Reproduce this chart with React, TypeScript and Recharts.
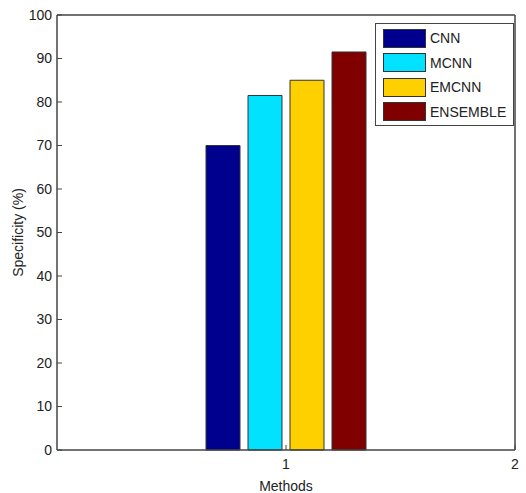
import { Bar, BarChart, Legend, XAxis, YAxis } from 'recharts'

const methods = ['1']
const methodPositions = [1]
const seriesNames = ['CNN', 'MCNN', 'EMCNN', 'ENSEMBLE']
const specificity = [70, 81.5, 85, 91.5]
const colors = ['#00008f', '#00e2ff', '#ffd000', '#800000']
const yTicks = [0, 10, 20, 30, 40, 50, 60, 70, 80, 90, 100]
const xTicks = [1, 2]

const FONT = "'Liberation Sans', Arial, sans-serif"
const INK = '#222'
const AXIS = { stroke: '#444', strokeWidth: 1.5 }

const data = methods.map((m, k) => {
  const row: Record<string, string | number> = { method: m, pos: methodPositions[k] }
  seriesNames.forEach((s, i) => {
    row[s] = specificity[i]
  })
  return row
})

function LegendBox() {
  return (
    <div
      style={{
        width: 137,
        height: 99,
        border: '1px solid #444',
        background: '#fff',
        paddingTop: 2,
        boxSizing: 'content-box',
        fontFamily: FONT,
        fontSize: 14,
        color: INK,
      }}
    >
      {seriesNames.map((name, i) => (
        <div key={name} style={{ display: 'flex', alignItems: 'center', height: 24.5 }}>
          <span
            style={{
              display: 'inline-block',
              width: 41,
              height: 17,
              marginLeft: 7,
              background: colors[i],
              border: '1px solid #333',
            }}
          />
          <span style={{ marginLeft: 4 }}>{name}</span>
        </div>
      ))}
    </div>
  )
}

export default function App() {
  const tickStyle = { fontSize: 14, fill: INK, fontFamily: FONT }
  return (
    <div style={{ position: 'absolute', left: 0, top: 0, background: '#fff' }}>
      <BarChart
        width={526}
        height={493}
        data={data}
        margin={{ top: 14, right: 10, left: 0, bottom: 0 }}
        barSize={34}
        barGap={8}
      >
        <XAxis xAxisId="cat" dataKey="method" hide height={0} />
        <XAxis
          xAxisId="num"
          dataKey="pos"
          type="number"
          domain={[0, 2]}
          allowDataOverflow
          ticks={xTicks}
          height={43}
          stroke="#444"
          axisLine={AXIS}
          tickSize={-5}
          tickMargin={14}
          tick={tickStyle}
          label={{
            value: 'Methods',
            position: 'insideBottom',
            offset: 2,
            style: { fontSize: 14, fill: INK, fontFamily: FONT },
          }}
        />
        <XAxis
          xAxisId="top"
          dataKey="pos"
          orientation="top"
          type="number"
          domain={[0, 2]}
          allowDataOverflow
          ticks={xTicks}
          height={1}
          stroke="#444"
          axisLine={AXIS}
          tickSize={-5}
          tick={false}
        />
        <YAxis
          yAxisId="left"
          domain={[0, 100]}
          ticks={yTicks}
          width={57}
          stroke="#444"
          axisLine={AXIS}
          tickSize={-5}
          tickMargin={10}
          tick={tickStyle}
          label={{
            value: 'Specificity (%)',
            angle: -90,
            position: 'insideLeft',
            offset: 18,
            style: { fontSize: 14, fill: INK, fontFamily: FONT, textAnchor: 'middle' },
          }}
        />
        <YAxis
          yAxisId="right"
          orientation="right"
          dataKey="CNN"
          domain={[0, 100]}
          allowDataOverflow
          ticks={yTicks}
          width={1}
          stroke="#444"
          axisLine={AXIS}
          tickSize={-5}
          tick={false}
        />
        <Legend
          layout="vertical"
          align="center"
          verticalAlign="middle"
          wrapperStyle={{ left: 375, top: 23, width: 139 }}
          content={() => <LegendBox />}
        />
        {seriesNames.map((name, i) => (
          <Bar
            key={name}
            dataKey={name}
            xAxisId="cat"
            yAxisId="left"
            fill={colors[i]}
            stroke="#333"
            strokeWidth={1}
            isAnimationActive={false}
          />
        ))}
      </BarChart>
    </div>
  )
}
